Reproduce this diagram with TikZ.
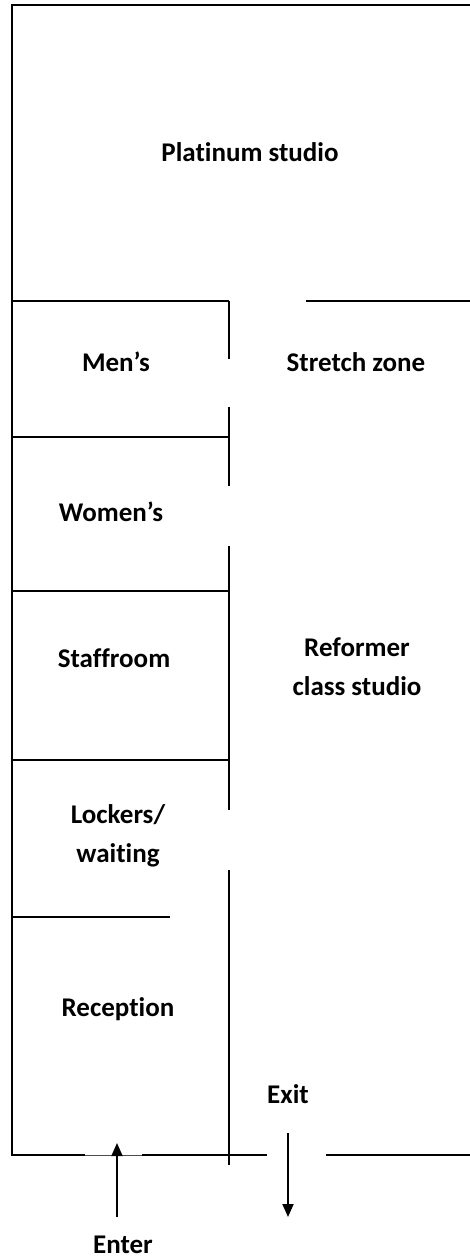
\documentclass[tikz,border=0pt]{standalone}
\usepackage{fontspec}
\setmainfont{Carlito}[Ligatures=NoCommon]
\usetikzlibrary{arrows.meta}

\begin{document}
\begin{tikzpicture}[x=1pt, y=-1pt,
        wall/.style={line width=1.8pt},
        room/.style={font=\fontsize{27}{39}\selectfont\bfseries, align=center, anchor=base, inner sep=0pt},
        way/.style={line width=1.8pt, -{Triangle[width=11pt,length=13pt]}}]
    \useasboundingbox (0,0) rectangle (470,1260);

    \begin{scope} % Outer walls
        \draw[wall] (470,5) -- (12,5) -- (12,1155) -- (85,1155);
        \draw[line width=1pt, color=black!70] (85,1155) -- (142,1155);
        \draw[wall] (142,1155) -- (267,1155);
        \draw[wall] (326,1155) -- (470,1155);
    \end{scope}

    \begin{scope} % Inner walls
        \draw[wall] (12,301) -- (229,301);
        \draw[wall] (306,301) -- (470,301);
        \draw[wall] (229,301) -- (229,359);
        \draw[wall] (229,407) -- (229,486);
        \draw[wall] (229,546) -- (229,810);
        \draw[wall] (229,870) -- (229,1165);
        \draw[wall] (12,437) -- (229,437);
        \draw[wall] (12,591) -- (229,591);
        \draw[wall] (12,760) -- (229,760);
        \draw[wall] (12,917) -- (170,917);
    \end{scope}

    % Room labels
    \node[room] (platinum) at (250,162) {Platinum studio};
    \node[room] (mens) at (116,371) {Men’s};
    \node[room] (stretch) at (356,371) {Stretch zone};
    \node[room] (womens) at (111,521) {Women’s};
    \node[room] (staff) at (114,667) {Staffroom};
    \node[room] (reformer) at (357,695) {Reformer\\class studio};
    \node[room] (lockers) at (118,862) {Lockers/\\waiting};
    \node[room] (reception) at (118,1016) {Reception};
    \node[room] (exit) at (288,1103) {Exit};
    \node[room] (enter) at (123,1253) {Enter};

    % Ways in and out
    \coordinate (inbottom) at (117,1217);
    \coordinate (intop) at (117,1143);
    \coordinate (outtop) at (288,1133);
    \coordinate (outbottom) at (288,1217);
    \draw[way] (inbottom) -- (intop);
    \draw[way] (outtop) -- (outbottom);
\end{tikzpicture}
\end{document}
